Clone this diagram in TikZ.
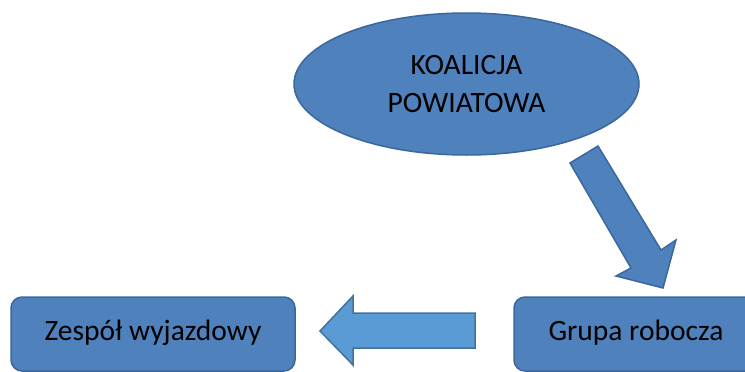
\documentclass[tikz,border=0pt]{standalone}
\usepackage{fontspec}
\setmainfont{Carlito}
\usetikzlibrary{shapes.geometric}
\definecolor{boxblue}{HTML}{4F81BD}
\definecolor{boxline}{HTML}{3A679C}
\definecolor{arrblue}{HTML}{5B9BD5}
\definecolor{arrline}{HTML}{41719C}
\tikzset{
  shapebox/.style={fill=boxblue, draw=boxline, line width=1.5pt, rounded corners=11pt, inner sep=0pt},
  bluetxt/.style={font=\fontsize{29.5}{38}\selectfont, text=black, align=center},
  blockarrow/.style={fill=boxblue, draw=boxline, line width=1.5pt, line join=miter},
  lightarrow/.style={fill=arrblue, draw=arrline, line width=1.5pt, line join=miter},
}
\begin{document}
\begin{tikzpicture}[x=1pt,y=-1pt]
\useasboundingbox (0,0) rectangle (745,372);
\clip (0,0) rectangle (745,372);
\node[ellipse, fill=boxblue, draw=boxline, line width=1.5pt, minimum width=345pt, minimum height=142pt, inner sep=0pt] (koal) at (466.5,84) {};
\node[bluetxt] (koaltxt) at (466.5,84) {KOALICJA\\POWIATOWA};
\node[shapebox, minimum width=284pt, minimum height=74pt] (zesp) at (153,334) {};
\node[bluetxt] (zesptxt) at (153,333) {Zespół wyjazdowy};
\node[shapebox, minimum width=244pt, minimum height=74pt] (grupa) at (636,334) {};
\node[bluetxt] (grupatxt) at (636,333) {Grupa robocza};
% down arrow
\draw[blockarrow] (570,163) -- (598,146) -- (661,250) -- (676,240) -- (663,288) -- (616,276) -- (631,268) -- cycle;
% left arrow
\draw[lightarrow] (475,313) -- (353,313) -- (353,296) -- (320,331) -- (353,365) -- (353,348) -- (475,348) -- cycle;
\end{tikzpicture}
\end{document}
